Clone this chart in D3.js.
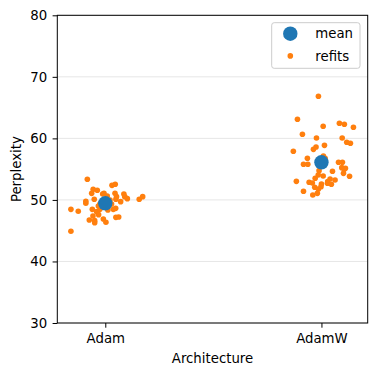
<!DOCTYPE html>
<html>
<head>
<meta charset="utf-8">
<script src="https://cdn.jsdelivr.net/npm/d3@7"></script>
<style>
  body { margin: 0; background: #fff; }
  text { font-family: "DejaVu Sans", sans-serif; }
</style>
</head>
<body>
<div id="my_viz"></div>
<script>
// categories and values
var categories = ["Adam", "AdamW"];
var meanValues = [49.45, 56.11];
var yTicks = [30, 40, 50, 60, 70, 80];

// refits: category index, x jitter (category units), perplexity
var adamJitter = [-0.083, -0.159, -0.125, -0.159, -0.090, -0.090, -0.056, -0.037, -0.063, -0.051,
  -0.060, -0.040, -0.074, -0.049, -0.049, -0.057, -0.031, -0.009, 0.003, -0.025,
  -0.012, -0.006, 0.009, 0.031, 0.046, 0.045, 0.052, 0.049, 0.022, 0.029,
  0.048, 0.062, 0.049, 0.071, 0.086, 0.090, 0.102, 0.157, 0.173, 0.037,
  0.012, -0.025, -0.032];
var adamRefits = [53.35, 48.47, 48.15, 44.90, 49.77, 49.45, 51.72, 51.56, 51.07, 50.10,
  48.47, 48.09, 46.74, 46.31, 46.63, 47.39, 47.61, 46.90, 46.36, 48.47,
  50.96, 51.07, 50.64, 52.37, 52.54, 51.07, 50.53, 50.10, 49.99, 49.34,
  48.63, 47.23, 47.17, 49.72, 50.96, 50.53, 50.21, 50.10, 50.53, 48.47,
  48.36, 49.34, 49.01];

var adamwJitter = [-0.014, -0.111, -0.088, 0.008, 0.083, 0.106, 0.148, -0.023, 0.014, 0.096,
  0.117, 0.134, -0.130, -0.037, -0.025, -0.065, -0.083, -0.063, 0.009, 0.017,
  0.079, 0.097, 0.094, 0.105, 0.111, 0.130, 0.051, -0.011, 0.008, -0.116,
  -0.083, -0.057, -0.042, -0.029, -0.015, 0.000, -0.031, -0.014, -0.040, -0.019,
  -0.002, 0.029, 0.040, 0.028, 0.046, 0.063, 0.102];
var adamwRefits = [66.84, 63.10, 60.66, 61.96, 62.45, 62.29, 61.80, 60.07, 58.87, 60.07,
  59.36, 59.20, 57.90, 58.22, 58.60, 56.76, 55.79, 55.79, 57.14, 56.76,
  56.11, 56.11, 55.24, 54.97, 55.13, 53.84, 54.65, 54.76, 53.89, 53.02,
  51.40, 52.86, 52.75, 53.51, 54.05, 52.59, 52.05, 51.78, 50.80, 51.07,
  52.16, 52.97, 53.40, 52.70, 52.54, 53.24, 54.32];

// build the refit rows
var refitData = [];
adamRefits.forEach(function(v, i) { refitData.push({cat: 0, jitter: adamJitter[i], value: v}); });
adamwRefits.forEach(function(v, i) { refitData.push({cat: 1, jitter: adamwJitter[i], value: v}); });

var blue = "#1f77b4", orange = "#ff7f0e";

var margin = {top: 15.3, right: 8.3, bottom: 53, left: 57.3},
    width = 376 - margin.left - margin.right,
    height = 376 - margin.top - margin.bottom;

var svg = d3.select("#my_viz")
  .append("svg")
    .attr("width", 376)
    .attr("height", 376)
  .append("g")
    .attr("transform", "translate(" + margin.left + "," + margin.top + ")");

var x = d3.scaleLinear().domain([-0.222, 1.214]).range([0, width]);
var y = d3.scaleLinear().domain([30, 80]).range([height, 0]);

// grid
svg.selectAll("gridline")
  .data(yTicks)
  .enter()
  .append("line")
    .attr("x1", 0)
    .attr("x2", width)
    .attr("y1", function(d) { return y(d); })
    .attr("y2", function(d) { return y(d); })
    .style("stroke", "#e6e6e6")
    .style("stroke-width", 1);

// refits
svg.selectAll("refit")
  .data(refitData)
  .enter()
  .append("circle")
    .attr("cx", function(d) { return x(d.cat + d.jitter); })
    .attr("cy", function(d) { return y(d.value); })
    .attr("r", 2.8)
    .style("fill", orange);

// means
svg.selectAll("meanpt")
  .data(meanValues)
  .enter()
  .append("circle")
    .attr("cx", function(d, i) { return x(i); })
    .attr("cy", function(d) { return y(d); })
    .attr("r", 7.2)
    .style("fill", blue);

// axes
var yAxis = svg.append("g")
  .call(d3.axisLeft(y).tickValues(yTicks).tickSize(4.7).tickPadding(5.5));
var xAxis = svg.append("g")
  .attr("transform", "translate(0," + height + ")")
  .call(d3.axisBottom(x).tickValues([0, 1]).tickFormat(function(d) { return categories[d]; })
    .tickSize(4.7).tickPadding(5.5));
[xAxis, yAxis].forEach(function(a) {
  a.select(".domain").remove();
  a.selectAll("text").style("font-size", "13.3px").style("fill", "#000").style("font-family", "DejaVu Sans");
  a.selectAll("line").style("stroke", "#000");
});

// spines
svg.append("rect")
  .attr("x", 0)
  .attr("y", 0)
  .attr("width", width)
  .attr("height", height)
  .style("fill", "none")
  .style("stroke", "#000")
  .style("stroke-width", 1);

// axis labels
svg.append("text")
  .attr("x", width / 2)
  .attr("y", 363.3 - margin.top)
  .attr("text-anchor", "middle")
  .style("font-size", "13.3px")
  .text("Architecture");

svg.append("text")
  .attr("transform", "translate(" + (20.5 - margin.left) + "," + (height / 2) + ")rotate(-90)")
  .attr("text-anchor", "middle")
  .style("font-size", "13.3px")
  .text("Perplexity");

// legend
var legend = svg.append("g")
  .attr("transform", "translate(" + (271.7 - margin.left) + "," + (22.7 - margin.top) + ")");
legend.append("rect")
  .attr("width", 88.3)
  .attr("height", 45.6)
  .attr("rx", 2.5)
  .style("fill", "#fff")
  .style("fill-opacity", 0.8)
  .style("stroke", "#cccccc")
  .style("stroke-width", 1);

var legendItems = [{label: "mean", color: blue, r: 7.2, cy: 11}, {label: "refits", color: orange, r: 2.8, cy: 33.2}];
legendItems.forEach(function(d) {
  legend.append("circle")
    .attr("cx", 18.6)
    .attr("cy", d.cy)
    .attr("r", d.r)
    .style("fill", d.color);
  legend.append("text")
    .attr("x", 43.6)
    .attr("y", d.cy)
    .attr("dy", "0.35em")
    .style("font-size", "13.3px")
    .text(d.label);
});
</script>
</body>
</html>
